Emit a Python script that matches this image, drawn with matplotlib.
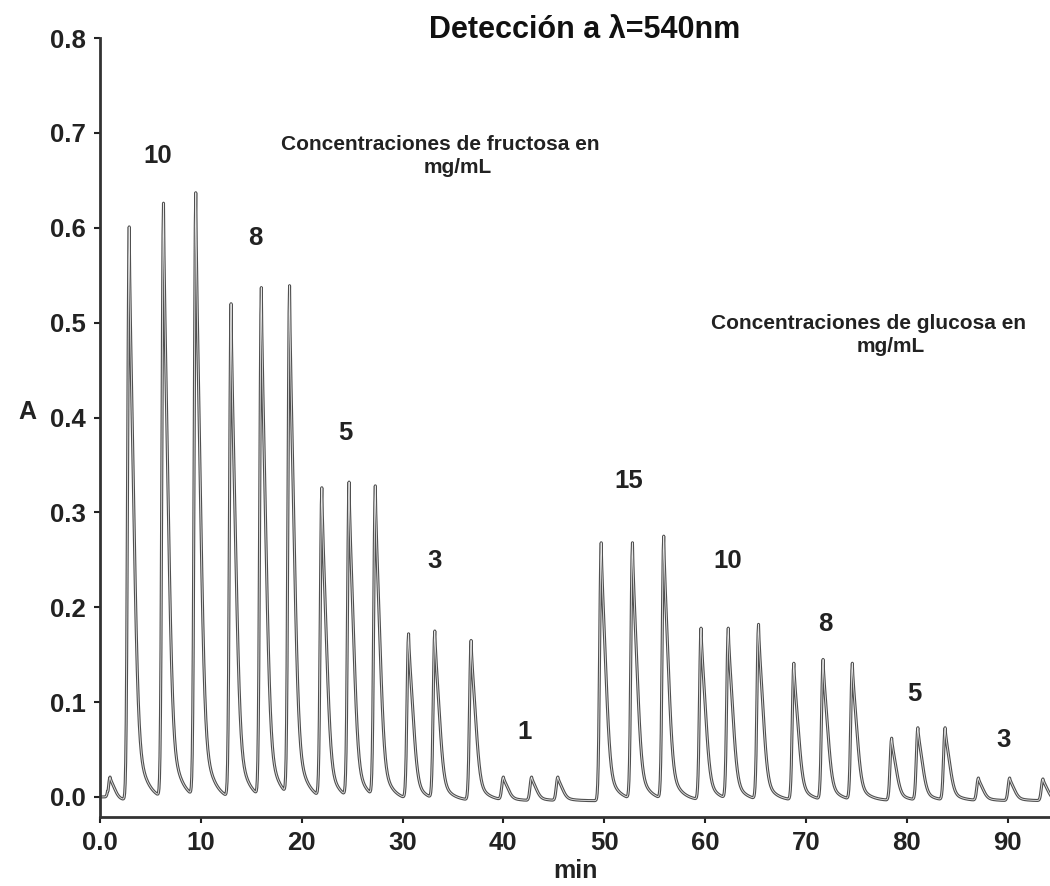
import numpy as np
import matplotlib.pyplot as plt

inicio_t = [1.0]
inicio_h = [0.021]
fru_t = [2.9, 6.3, 9.5, 13.0, 16.0, 18.8, 22.0, 24.7, 27.3, 30.6, 33.2, 36.8, 40.0, 42.8, 45.4]
fru_h = [0.601, 0.626, 0.637, 0.520, 0.537, 0.539, 0.326, 0.332, 0.328, 0.172, 0.175, 0.165, 0.021, 0.021, 0.021]
glu_t = [49.7, 52.8, 55.9, 59.6, 62.3, 65.3, 68.8, 71.7, 74.6, 78.5, 81.1, 83.8, 87.1, 90.2, 93.5]
glu_h = [0.268, 0.268, 0.275, 0.178, 0.178, 0.182, 0.141, 0.145, 0.141, 0.062, 0.073, 0.073, 0.020, 0.020, 0.019]
linea_base = -0.004

# etiquetas de concentracion (mg/mL): texto, tiempo, altura
fru_etq = ["10", "8", "5", "3", "1"]
fru_etq_t = [5.75, 15.4, 24.3, 33.2, 42.1]
fru_etq_y = [0.676, 0.589, 0.384, 0.249, 0.069]
glu_etq = ["15", "10", "8", "5", "3"]
glu_etq_t = [52.4, 62.2, 71.9, 80.8, 89.6]
glu_etq_y = [0.333, 0.249, 0.182, 0.109, 0.060]

t0s = np.array(inicio_t + fru_t + glu_t)
hs = np.array(inicio_h + fru_h + glu_h)


def forma_pico(d):
    dp = np.clip(d, 0, None)
    subida = np.exp(-0.5 * (d / 0.15) ** 2)
    bajada = 0.15 * np.exp(-dp / 0.08) + 0.6 * np.exp(-0.5 * (dp / 0.45) ** 2) + 0.25 * np.exp(-dp / 0.9)
    return np.where(d < 0, subida, bajada) * (d > -1.2)


# malla fina que incluye el vertice de cada pico
t = np.unique(np.concatenate([np.arange(0, 94.4, 0.05), t0s]))
y = np.full_like(t, linea_base)
y[t < 0.8] = 0.0
for t0, h in zip(t0s, hs):
    resto = np.interp(t0, t, y)  # cola de los picos anteriores
    y += (h - resto) * forma_pico(t - t0)

plt.rcParams.update({"font.family": "Liberation Sans", "font.weight": "bold"})
fig = plt.figure(figsize=(10.5, 8.86), dpi=100)
ax = fig.add_axes([0.0952, 0.078, 0.9048, 0.879])

ax.plot(t, y, color="#505050", lw=2.2)
ax.plot(t, y, color="#e6e6e6", lw=0.6)

ax.set_xlim(0, 94.2)
ax.set_ylim(-0.021, 0.8)
ax.set_xticks(np.arange(0, 100, 10))
ax.set_xticklabels(["0.0"] + [str(v) for v in range(10, 100, 10)])
ax.set_yticks(np.arange(0, 0.81, 0.1))
ax.set_yticklabels([f"{v:.1f}" for v in np.arange(0, 0.81, 0.1)])
ax.tick_params(labelsize=18.5, length=4, width=1.5, colors="#222222", pad=6)
for lado in ["top", "right"]:
    ax.spines[lado].set_visible(False)
for lado in ["left", "bottom"]:
    ax.spines[lado].set_linewidth(2)
    ax.spines[lado].set_color("#333333")

ax.set_xlabel("min", fontsize=18, fontweight="bold", color="#222222", labelpad=3)
fig.text(0.026, 0.535, "A", fontsize=18, color="#222222", ha="center", va="center")
fig.text(0.557, 0.966, "Detección a λ=540nm", fontsize=22, color="#111111", ha="center", va="center")

for txt, tx, ty in zip(fru_etq + glu_etq, fru_etq_t + glu_etq_t, fru_etq_y + glu_etq_y):
    ax.text(tx, ty, txt, fontsize=18.5, color="#222222", ha="center", va="center")

ax.text(33.7, 0.688, "Concentraciones de fructosa en", fontsize=15, color="#222222", ha="center", va="center")
ax.text(35.5, 0.664, "mg/mL", fontsize=15, color="#222222", ha="center", va="center")
ax.text(76.2, 0.499, "Concentraciones de glucosa en", fontsize=15, color="#222222", ha="center", va="center")
ax.text(78.4, 0.475, "mg/mL", fontsize=15, color="#222222", ha="center", va="center")

fig.savefig("out.png", dpi=100)
